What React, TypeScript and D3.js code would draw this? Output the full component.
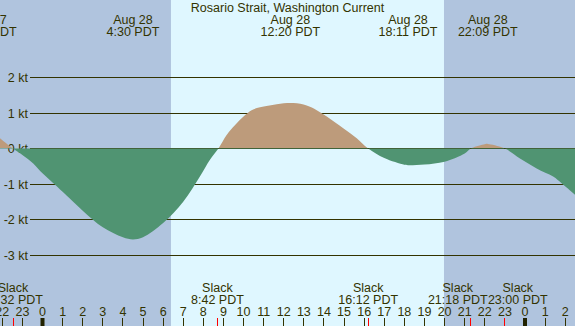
import React from 'react';
import * as d3 from 'd3';

// current speed (kt), hour 0 = Aug 28 00:00 PDT
const curveHours = [-2.2, -1.47, -1, -0.46, 0, 0.54, 1, 2, 3, 4, 4.5, 5, 6, 7, 7.83, 8.33, 8.75, 9.16, 9.58, 10, 10.4, 10.82, 11.65, 12.48, 13.14, 13.64, 14.14, 14.96, 15.63, 16.2, 17, 18, 18.18, 19, 20, 21, 21.3, 22, 22.15, 23, 23.75, 24.58, 25.4, 25.82, 26.6];
const curveKnots = [0.33, 0, -0.18, -0.42, -0.7, -0.98, -1.22, -1.75, -2.22, -2.5, -2.56, -2.5, -2.1, -1.5, -0.79, -0.32, 0, 0.38, 0.66, 0.9, 1.08, 1.16, 1.25, 1.28, 1.21, 1.08, 0.9, 0.57, 0.29, 0, -0.27, -0.46, -0.47, -0.45, -0.37, -0.14, 0, 0.12, 0.13, 0, -0.28, -0.56, -0.79, -0.98, -1.36];

const maxHours = [-2.77, 4.5, 12.33, 18.18, 22.15];
const maxDates = ['Aug 27', 'Aug 28', 'Aug 28', 'Aug 28', 'Aug 28'];
const maxTimes = ['21:14 PDT', '4:30 PDT', '12:20 PDT', '18:11 PDT', '22:09 PDT'];

const slackHours = [-1.467, 8.7, 16.2, 21.3, 23];
const slackTimes = ['22:32 PDT', '8:42 PDT', '16:12 PDT', '21:18 PDT', '23:00 PDT'];

const sunrise = 6.39;
const sunset = 19.97;

const yTicks = [2, 1, 0, -1, -2, -3];
const hourTicks = d3.range(-2, 27);

const W = 575;
const H = 326;
const FG = '#333300';
const FONT = '"Liberation Sans", Arial, sans-serif';
const LABEL_W = 60;

// push apart slack labels that would collide
function spread(xs: number[]): number[] {
  const out = xs.slice();
  for (let i = 1; i < out.length; i++) {
    const gap = out[i] - out[i - 1];
    if (gap < LABEL_W) {
      const d = (LABEL_W - gap) / 2;
      out[i - 1] -= d;
      out[i] += d;
    }
  }
  return out;
}

const App: React.FC = () => {
  const x = d3.scaleLinear().domain([0, 24]).range([42.5, 525]);
  const y = d3.scaleLinear().domain([0, 1]).range([148.5, 113]);
  const y0 = y(0);

  const pts = curveHours.map((h, i) => [h, curveKnots[i]] as [number, number]);
  const area = d3.area<[number, number]>()
    .x(d => x(d[0]))
    .y0(y0)
    .y1(d => y(d[1]))
    .curve(d3.curveCatmullRom.alpha(0.5))(pts) || '';

  const crisp = (v: number) => Math.round(v - 0.5) + 0.5;
  const slackX = spread(slackHours.map(h => x(h)));

  return (
    <svg width={W} height={H} style={{ position: 'absolute', left: 0, top: 0 }} fontFamily={FONT}>
      <defs>
        <clipPath id="above"><rect x={0} y={0} width={W} height={Math.floor(y0)} /></clipPath>
        <clipPath id="below"><rect x={0} y={Math.floor(y0)} width={W} height={H} /></clipPath>
      </defs>
      <rect x={0} y={0} width={W} height={H} fill="#b0c4de" />
      <rect x={x(sunrise)} y={0} width={x(sunset) - x(sunrise)} height={H} fill="#dff7ff" />

      {yTicks.map(t => (
        <g key={t}>
          <line x1={30} x2={W} y1={crisp(y(t))} y2={crisp(y(t))} stroke={FG} strokeWidth={1} />
          <text x={28} y={crisp(y(t)) + 4.5} textAnchor="end" fontSize={12.5} fill={FG}>{`${t} kt`}</text>
        </g>
      ))}

      <path d={area} fill="#bd9b7b" clipPath="url(#above)" />
      <path d={area} fill="#509472" clipPath="url(#below)" />

      <text x={W / 2} y={11.5} textAnchor="middle" fontSize={12.5} fill={FG}>Rosario Strait, Washington Current</text>

      {maxHours.map((h, i) => (
        <g key={i}>
          <text x={x(h)} y={24} textAnchor="middle" fontSize={12.5} fill={FG}>{maxDates[i]}</text>
          <text x={x(h)} y={36} textAnchor="middle" fontSize={12.5} fill={FG}>{maxTimes[i]}</text>
        </g>
      ))}

      {slackHours.map((h, i) => (
        <g key={i}>
          <text x={slackX[i]} y={291.5} textAnchor="middle" fontSize={12.5} fill={FG}>Slack</text>
          <text x={slackX[i]} y={304} textAnchor="middle" fontSize={12.5} fill={FG}>{slackTimes[i]}</text>
        </g>
      ))}

      {hourTicks.map(h => {
        const mid = ((h % 24) + 24) % 24 === 0;
        return (
          <g key={h}>
            <text x={x(h)} y={315.5} textAnchor="middle" fontSize={12.5} fill={FG}>{((h % 24) + 24) % 24}</text>
            <line x1={mid ? x(h) : crisp(x(h))} x2={mid ? x(h) : crisp(x(h))} y1={318} y2={H} stroke={mid ? '#222200' : FG} strokeWidth={mid ? 4 : 1} />
          </g>
        );
      })}

      {slackHours.map((h, i) => (
        <line key={i} x1={crisp(x(h))} x2={crisp(x(h))} y1={318} y2={H} stroke="#ff0000" strokeWidth={1} />
      ))}
    </svg>
  );
};

export default App;
